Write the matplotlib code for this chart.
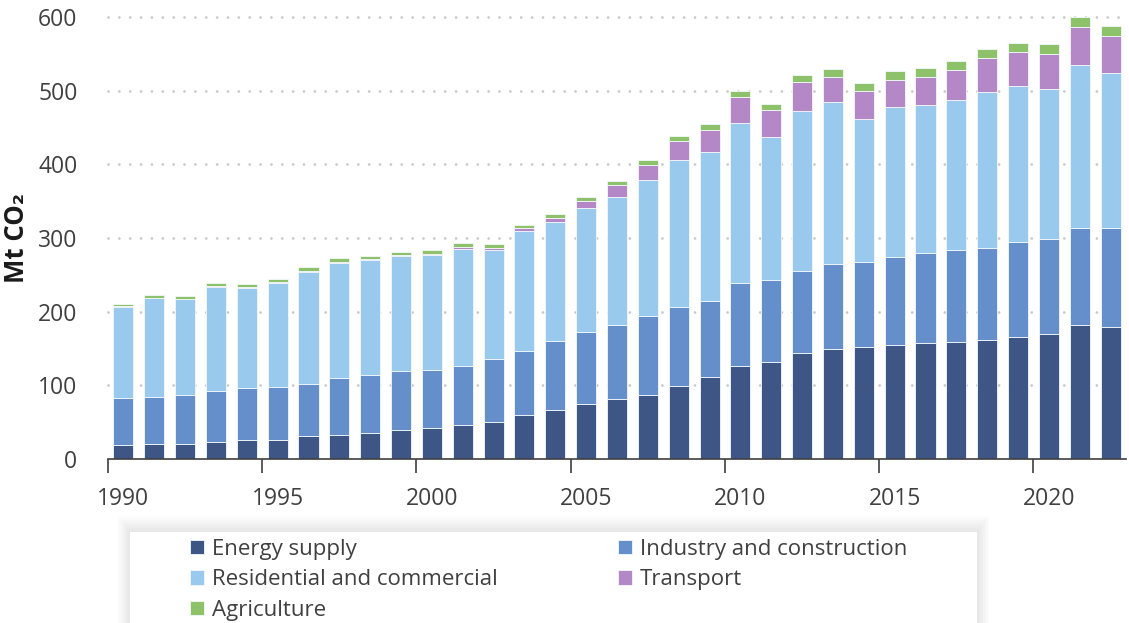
import matplotlib
matplotlib.use("Agg")
import matplotlib.pyplot as plt
from matplotlib.patches import Rectangle
import numpy as np

plt.rcParams['font.family'] = ['Open Sans', 'DejaVu Sans']

years = list(range(1990, 2023))
energy = [19.0, 20.4, 20.8, 23.1, 25.8, 26.3, 31.7, 33.0, 35.3, 39.4, 41.7, 45.8, 50.3, 59.4, 66.6,
          75.2, 81.6, 87.0, 98.8, 111.9, 126.4, 131.4, 143.9, 149.3, 152.2, 154.4, 157.6, 159.4,
          161.7, 165.3, 169.4, 182.1, 179.3]
industry = [63.8, 64.3, 66.2, 69.3, 71.1, 71.5, 70.2, 76.6, 78.9, 80.2, 79.7, 81.1, 86.1, 86.9, 93.3,
            97.4, 100.5, 106.9, 107.8, 102.4, 112.4, 111.5, 111.8, 115.0, 115.5, 119.6, 121.8, 124.1,
            125.0, 129.5, 128.6, 130.9, 133.7]
residential = [124.1, 133.6, 130.0, 141.7, 135.9, 140.9, 152.1, 156.2, 155.8, 155.4, 155.4, 158.6, 146.8,
               162.7, 161.8, 168.6, 174.0, 184.4, 199.8, 202.1, 217.5, 194.3, 216.7, 219.9, 194.3,
               203.8, 201.6, 203.4, 211.9, 211.1, 204.3, 221.4, 211.0]
transport = [0.5, 0.5, 0.5, 0.8, 1.2, 1.0, 1.4, 1.4, 1.9, 1.8, 1.9, 2.7, 2.7, 4.1, 5.0, 8.6, 15.9, 21.3,
             25.9, 30.8, 34.9, 37.2, 39.4, 34.4, 37.1, 36.7, 37.1, 41.2, 45.8, 46.6, 48.0, 51.6, 50.3]
agriculture = [2.7, 3.6, 3.1, 4.2, 4.2, 4.4, 5.0, 5.0, 4.0, 4.1, 4.9, 4.5, 5.9, 4.5, 5.4, 6.3, 5.4, 6.8,
               6.8, 7.7, 8.1, 8.1, 9.0, 11.3, 11.3, 11.8, 12.2, 11.8, 12.2, 11.8, 12.7, 13.6, 13.6]

series_names = ["Energy supply", "Industry and construction", "Residential and commercial",
                "Transport", "Agriculture"]
series_colors = ["#3d5686", "#658fca", "#9ac9ee", "#b488c6", "#8ec26a"]
tick_years = [1990, 1995, 2000, 2005, 2010, 2015, 2020]
y_ticks = [0, 100, 200, 300, 400, 500, 600]
y_label = "Mt CO₂"

W, H = 1129, 623
fig = plt.figure(figsize=(W / 100, H / 100), dpi=100)
ax_w = 1126 - 108
ax = fig.add_axes([108 / W, 1 - 459 / H, ax_w / W, (459 - 17) / H])

x = np.array(years) + 0.5
bottom = np.zeros(len(years))
handles = []
for name, vals, col in zip(series_names, [energy, industry, residential, transport, agriculture],
                           series_colors):
    b = ax.bar(x, vals, width=0.65, bottom=bottom, color=col, edgecolor="#f4f8fc",
               linewidth=0.6, label=name, zorder=3)
    handles.append(b)
    bottom += np.array(vals)

ax.set_xlim(1990, 2023)
ax.set_ylim(0, 600)

# gridlines
for yv in y_ticks[1:]:
    ax.axhline(yv, color="#c9c9c9", linewidth=2.0, linestyle=(0, (0.01, 3.9)),
               dash_capstyle="round", zorder=1, clip_on=False)

ax.set_yticks(y_ticks)
ax.tick_params(axis="y", length=0, pad=22, labelsize=16.5, labelcolor="#404040")

ax.set_xticks(tick_years)
ax.set_xticklabels([])
ax.tick_params(axis="x", which="major", length=10, width=1.2, color="#404040", direction="out")
ax.set_xticks([t + 0.5 for t in tick_years], minor=True)
ax.set_xticklabels([str(t) for t in tick_years], minor=True)
ax.tick_params(axis="x", which="minor", length=0, pad=20, labelsize=16.5, labelcolor="#404040")

for s in ["top", "right", "left"]:
    ax.spines[s].set_visible(False)
ax.spines["bottom"].set_color("#404040")
ax.spines["bottom"].set_linewidth(1.2)
ax.spines["bottom"].set_zorder(4)

ax.set_ylabel(y_label, fontsize=18.5, fontweight="bold", color="#1a1a1a")
ax.yaxis.set_label_coords(-78 / ax_w, 0.5)

# legend background with soft shadow
x0, y0, x1, y1 = 130, 532, 977, 623
for i in range(8, 0, -1):
    fig.patches.append(Rectangle(((x0 - i * 1.5) / W, 1 - (y1) / H), (x1 - x0 + i * 3) / W,
                                 (y1 - y0 + i * 2.0) / H, transform=fig.transFigure,
                                 facecolor="#000000", alpha=0.012, edgecolor="none", zorder=0))
fig.patches.append(Rectangle((x0 / W, 1 - y1 / H), (x1 - x0) / W, (y1 - y0) / H,
                             transform=fig.transFigure, facecolor="white", edgecolor="none",
                             zorder=1))

order = [0, 2, 4, 1, 3]
leg = fig.legend(handles=[handles[i] for i in order], labels=[series_names[i] for i in order],
                 ncol=2, loc="upper left",
                 bbox_to_anchor=(190 / W, 1 - 539 / H), frameon=False, fontsize=16,
                 handlelength=0.62, handleheight=0.62, handletextpad=0.35,
                 columnspacing=5.45, labelspacing=0.42, borderpad=0.0, borderaxespad=0)
for t in leg.get_texts():
    t.set_color("#404040")

fig.savefig("out.png", dpi=100)
